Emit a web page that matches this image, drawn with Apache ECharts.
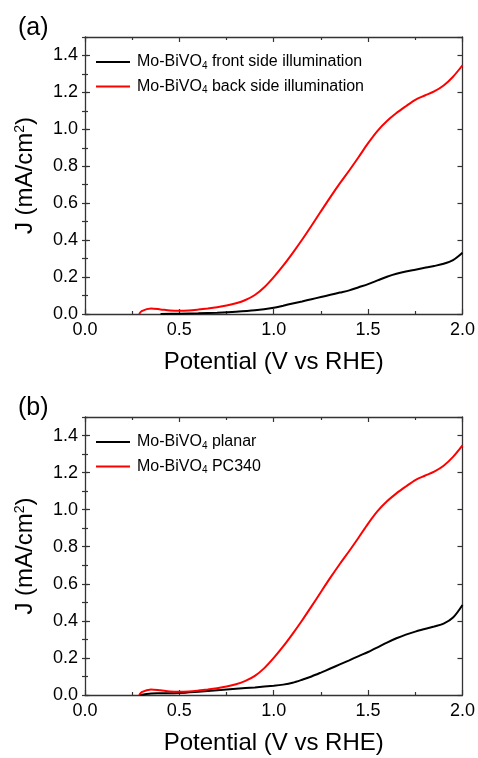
<!DOCTYPE html>
<html>
<head>
<meta charset="utf-8">
<script src="https://cdn.jsdelivr.net/npm/echarts@6/dist/echarts.min.js"></script>
<style>
  html, body { margin: 0; padding: 0; background: #fff; }
  #chart { width: 478px; height: 758px; }
</style>
</head>
<body>
<div id="chart"></div>
<script>
// Photocurrent (J) vs applied potential for Mo-BiVO4 photoanodes

// (a) front vs back side illumination
const frontPotential = [0.40, 0.50, 0.60, 0.70, 0.80, 0.90, 1.00, 1.05, 1.10, 1.15, 1.20, 1.25, 1.30, 1.35, 1.40, 1.45, 1.50, 1.55, 1.60, 1.65, 1.70, 1.75, 1.80, 1.85, 1.90, 1.95, 2.00];
const frontJ = [0.000, 0.002, 0.004, 0.007, 0.012, 0.020, 0.034, 0.045, 0.057, 0.068, 0.080, 0.092, 0.104, 0.116, 0.128, 0.145, 0.162, 0.182, 0.202, 0.218, 0.230, 0.240, 0.250, 0.260, 0.272, 0.292, 0.332];

const backPotential = [0.287, 0.30, 0.35, 0.40, 0.45, 0.50, 0.55, 0.60, 0.65, 0.70, 0.75, 0.80, 0.85, 0.90, 0.95, 1.00, 1.05, 1.10, 1.15, 1.20, 1.25, 1.30, 1.35, 1.40, 1.45, 1.50, 1.55, 1.60, 1.65, 1.70, 1.75, 1.80, 1.85, 1.90, 1.95, 2.00];
const backJ = [0.000, 0.016, 0.030, 0.025, 0.019, 0.017, 0.019, 0.024, 0.030, 0.037, 0.046, 0.058, 0.076, 0.103, 0.145, 0.200, 0.262, 0.330, 0.402, 0.478, 0.556, 0.633, 0.707, 0.777, 0.850, 0.925, 0.992, 1.045, 1.088, 1.125, 1.160, 1.183, 1.205, 1.237, 1.285, 1.347];

// (b) planar vs PC340
const planarPotential = [0.29, 0.35, 0.40, 0.50, 0.60, 0.70, 0.80, 0.90, 1.00, 1.05, 1.10, 1.15, 1.20, 1.25, 1.30, 1.35, 1.40, 1.45, 1.50, 1.55, 1.60, 1.65, 1.70, 1.75, 1.80, 1.85, 1.90, 1.95, 2.00];
const planarJ = [0.000, 0.008, 0.009, 0.011, 0.018, 0.026, 0.034, 0.041, 0.050, 0.056, 0.066, 0.082, 0.100, 0.121, 0.143, 0.165, 0.187, 0.210, 0.232, 0.257, 0.283, 0.306, 0.326, 0.342, 0.356, 0.370, 0.385, 0.418, 0.486];

const pc340Potential = [0.287, 0.30, 0.35, 0.40, 0.45, 0.50, 0.55, 0.60, 0.65, 0.70, 0.75, 0.80, 0.85, 0.90, 0.95, 1.00, 1.05, 1.10, 1.15, 1.20, 1.25, 1.30, 1.35, 1.40, 1.45, 1.50, 1.55, 1.60, 1.65, 1.70, 1.75, 1.80, 1.85, 1.90, 1.95, 2.00];
const pc340J = [0.000, 0.016, 0.030, 0.025, 0.019, 0.017, 0.019, 0.024, 0.030, 0.037, 0.046, 0.058, 0.076, 0.103, 0.145, 0.200, 0.262, 0.330, 0.402, 0.478, 0.556, 0.633, 0.707, 0.777, 0.850, 0.925, 0.992, 1.045, 1.088, 1.125, 1.160, 1.183, 1.205, 1.237, 1.285, 1.347];

const seriesNames = {
  front: 'Mo-BiVO{sub|4} front side illumination',
  back: 'Mo-BiVO{sub|4} back side illumination',
  planar: 'Mo-BiVO{sub|4} planar',
  pc340: 'Mo-BiVO{sub|4} PC340'
};
const panelLabels = ['(a)', '(b)'];
const xTitle = 'Potential (V vs RHE)';
const yTitle = 'J (mA/cm{sup|2})';

const FONT = '"Liberation Sans", Arial, sans-serif';
const FRAME = '#333';

const zip = (xs, ys) => xs.map((x, i) => [x, ys[i]]);

const grids = [
  { left: 85, top: 37, width: 378, height: 277 },
  { left: 85, top: 417, width: 378, height: 278 }
];

function xAxes(gridIndex) {
  const base = {
    type: 'value', gridIndex, min: 0, max: 2, interval: 0.5,
    axisLine: { show: true, onZero: false, lineStyle: { color: FRAME, width: 1.3 } },
    axisTick: { show: true, inside: true, length: 5, lineStyle: { color: FRAME, width: 1.2 } },
    minorTick: { show: true, splitNumber: 2, length: 3, lineStyle: { color: FRAME, width: 1.2 } },
    splitLine: { show: false }
  };
  return [
    Object.assign({}, base, {
      position: 'bottom',
      name: xTitle, nameLocation: 'middle', nameGap: 36,
      nameTextStyle: { fontFamily: FONT, fontSize: 24, color: '#000' },
      axisLabel: { show: true, margin: 7, fontFamily: FONT, fontSize: 18, color: '#000',
        formatter: v => v.toFixed(1) }
    }),
    Object.assign({}, base, { position: 'top', axisLabel: { show: false } })
  ];
}

function yAxes(gridIndex) {
  const line = { show: true, onZero: false, lineStyle: { color: FRAME, width: 1.3 } };
  const major = {
    type: 'value', gridIndex, min: 0, max: 1.5, interval: 0.2,
    axisLine: line,
    axisTick: { show: true, inside: true, length: 5, lineStyle: { color: FRAME, width: 1.2 } },
    splitLine: { show: false }
  };
  const minor = {
    type: 'value', gridIndex, min: 0, max: 1.5, interval: 0.1,
    axisLine: { show: false },
    axisTick: { show: true, inside: true, length: 3, lineStyle: { color: FRAME, width: 1.2 } },
    axisLabel: { show: false },
    splitLine: { show: false }
  };
  return [
    Object.assign({}, major, {
      position: 'left',
      name: yTitle, nameLocation: 'middle', nameGap: 48, nameRotate: 90,
      nameTextStyle: { fontFamily: FONT, fontSize: 24, color: '#000',
        rich: { sup: { fontFamily: FONT, fontSize: 14, verticalAlign: 'top', color: '#000' } } },
      axisLabel: { show: true, margin: 7, fontFamily: FONT, fontSize: 18, color: '#000',
        showMaxLabel: false, formatter: v => v.toFixed(1) }
    }),
    Object.assign({}, minor, { position: 'left' }),
    Object.assign({}, major, { position: 'right', axisLabel: { show: false } }),
    Object.assign({}, minor, { position: 'right' })
  ];
}

function line(name, data, color, gridIndex) {
  return {
    type: 'line', name, data,
    xAxisIndex: gridIndex * 2, yAxisIndex: gridIndex * 4,
    smooth: 0.3, symbol: 'none', clip: true,
    lineStyle: { color, width: 2 }, itemStyle: { color }
  };
}

function legend(names, top) {
  return {
    orient: 'vertical', left: 91, top,
    itemWidth: 34, itemHeight: 2, itemGap: 5.5,
    icon: 'rect',
    data: names,
    textStyle: {
      fontFamily: FONT, fontSize: 16, color: '#000', lineHeight: 18, padding: [0, 0, 0, 2],
      rich: { sub: { fontFamily: FONT, fontSize: 10, lineHeight: 18, verticalAlign: 'bottom', padding: [9, 0, 0, 0], color: '#000' } }
    }
  };
}

const option = {
  animation: false,
  backgroundColor: '#fff',
  title: [
    { text: panelLabels[0], left: 13, top: 11, textStyle: { fontFamily: FONT, fontSize: 25, fontWeight: 'normal', color: '#000' } },
    { text: panelLabels[1], left: 13, top: 391, textStyle: { fontFamily: FONT, fontSize: 25, fontWeight: 'normal', color: '#000' } }
  ],
  grid: grids,
  xAxis: [...xAxes(0), ...xAxes(1)],
  yAxis: [...yAxes(0), ...yAxes(1)],
  legend: [
    legend([seriesNames.front, seriesNames.back], 47),
    legend([seriesNames.planar, seriesNames.pc340], 427)
  ],
  series: [
    line(seriesNames.front, zip(frontPotential, frontJ), '#000', 0),
    line(seriesNames.back, zip(backPotential, backJ), '#ff0000', 0),
    line(seriesNames.planar, zip(planarPotential, planarJ), '#000', 1),
    line(seriesNames.pc340, zip(pc340Potential, pc340J), '#ff0000', 1)
  ]
};

const chart = echarts.init(document.getElementById('chart'), null, { renderer: 'canvas' });
chart.setOption(option);
</script>
</body>
</html>
